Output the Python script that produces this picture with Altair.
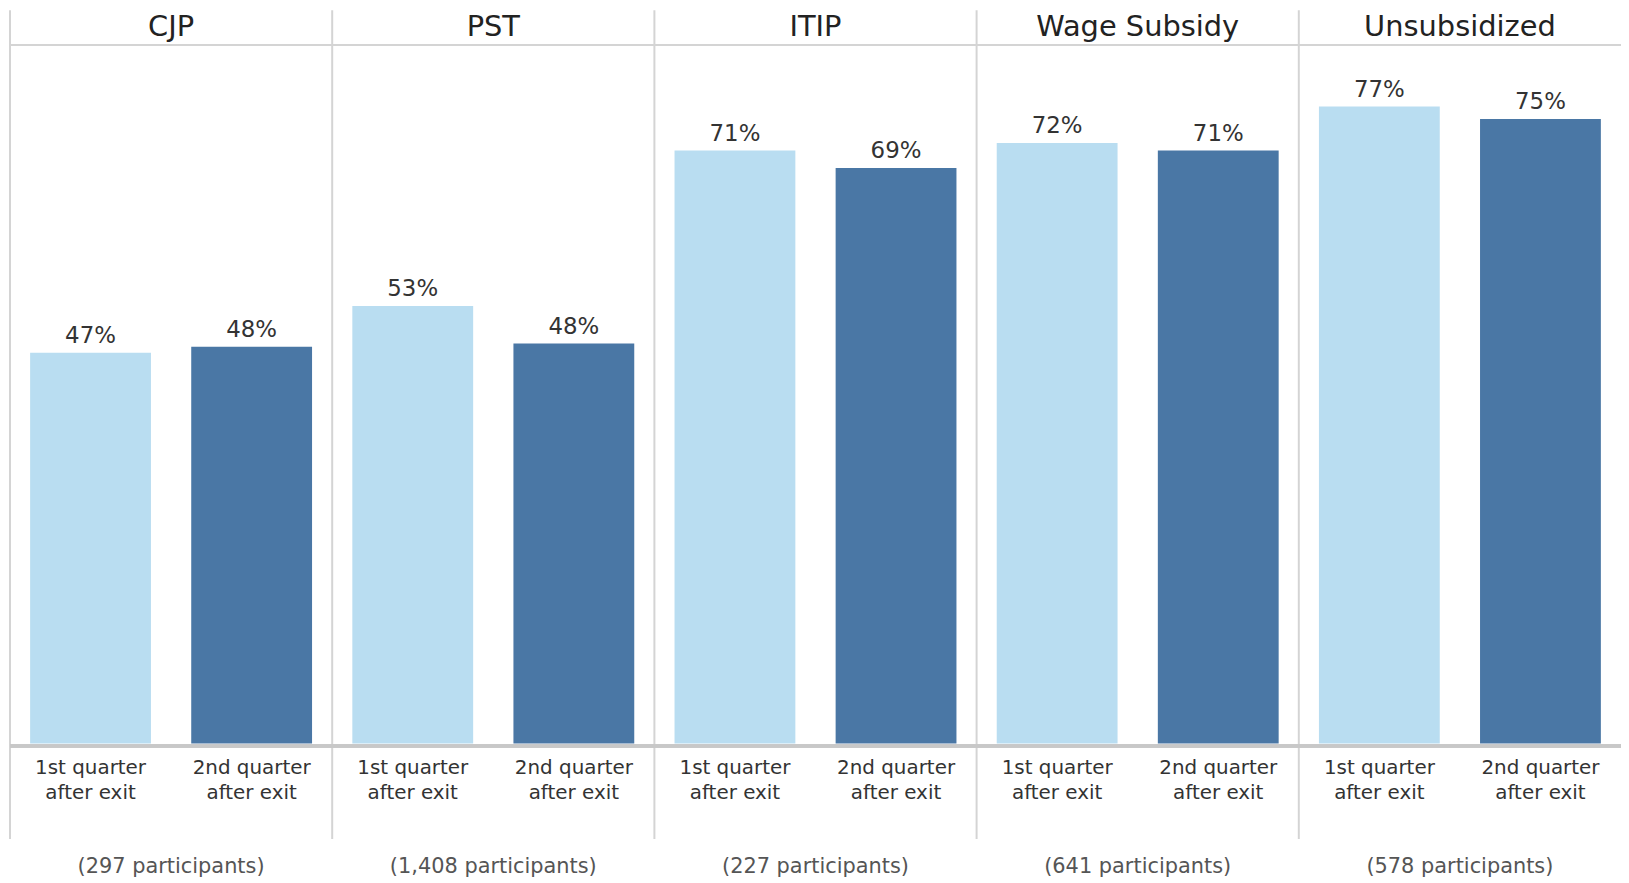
import altair as alt
import pandas as pd

programs = ["CJP", "PST", "ITIP", "Wage Subsidy", "Unsubsidized"]
participants = ["(297 participants)", "(1,408 participants)", "(227 participants)",
                "(641 participants)", "(578 participants)"]
quarters = ["1st quarter after exit", "2nd quarter after exit"]
q1_values = [0.470, 0.526, 0.713, 0.722, 0.766]
q2_values = [0.477, 0.481, 0.692, 0.713, 0.751]
colors = ["#b9ddf1", "#4a77a5"]

W = 1619
H = 702
FONT = "DejaVu Sans"

rows = []
for i, p in enumerate(programs):
    rows.append({"program": p, "quarter": quarters[0], "value": q1_values[i],
                 "qlabel": "1st quarter\nafter exit"})
    rows.append({"program": p, "quarter": quarters[1], "value": q2_values[i],
                 "qlabel": "2nd quarter\nafter exit"})
df = pd.DataFrame(rows)
df_prog = pd.DataFrame({"program": programs, "participants": participants})

xenc = alt.X("program:N", sort=programs,
             scale=alt.Scale(domain=programs, paddingInner=0, paddingOuter=0),
             axis=None)
xoff = alt.XOffset("quarter:N", sort=quarters,
                   scale=alt.Scale(domain=quarters, paddingInner=0.25, paddingOuter=0.125))
yenc = alt.Y("value:Q", scale=alt.Scale(domain=[0, 0.84], nice=False, zero=True), axis=None)

base = alt.Chart(df)

bars = base.mark_bar().encode(
    x=xenc, xOffset=xoff, y=yenc,
    color=alt.Color("quarter:N", scale=alt.Scale(domain=quarters, range=colors), legend=None),
)

value_text = base.mark_text(baseline="bottom", dy=-5, font=FONT, fontSize=23, color="#333333").encode(
    x=xenc, xOffset=xoff, y=yenc,
    text=alt.Text("value:Q", format=".0%"),
)

quarter_text = base.mark_text(baseline="middle", font=FONT, fontSize=20, color="#333333",
                              lineBreak="\n", lineHeight=25).encode(
    x=xenc, xOffset=xoff, y=alt.value(727), text="qlabel:N",
)

pbase = alt.Chart(df_prog)

header_text = pbase.mark_text(baseline="middle", font=FONT, fontSize=29, color="#222222").encode(
    x=xenc, y=alt.value(-18), text="program:N",
)

part_text = pbase.mark_text(baseline="middle", font=FONT, fontSize=21, color="#555555").encode(
    x=xenc, y=alt.value(826), text="participants:N",
)

vrules = pbase.mark_rule(color="#d4d4d4", strokeWidth=2).encode(
    x=alt.X("program:N", sort=programs, bandPosition=0,
            scale=alt.Scale(domain=programs, paddingInner=0, paddingOuter=0), axis=None),
    y=alt.value(-35), y2=alt.value(798),
)

hrule = pbase.mark_rule(color="#d4d4d4", strokeWidth=2).encode(
    x=alt.value(0), x2=alt.value(W), y=alt.value(0),
)

baseline_rule = pbase.mark_rule(color="#c8c8c8", strokeWidth=3).encode(
    x=alt.value(0), x2=alt.value(W), y=alt.value(704.5),
)

chart = alt.layer(
    vrules, hrule, bars, baseline_rule, value_text, quarter_text, header_text, part_text
).properties(
    width=W, height=H,
    autosize=alt.AutoSizeParams(type="none"),
    padding={"left": 2, "top": 35, "right": 0, "bottom": 140},
).configure_view(strokeWidth=0)

chart.save("out.html", embed_options={"renderer": "svg", "actions": False})
